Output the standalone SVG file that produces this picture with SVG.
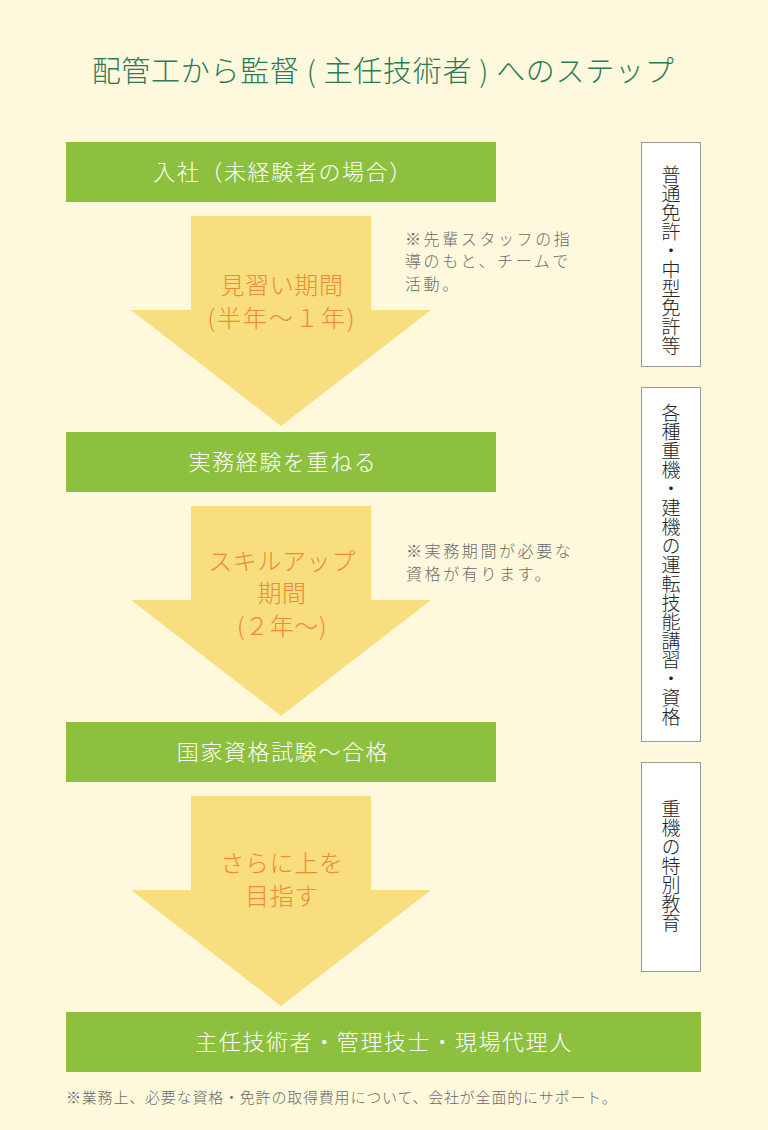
<svg xmlns="http://www.w3.org/2000/svg" width="768" height="1130" viewBox="0 0 768 1130">
<style>
text{font-family:"Noto Sans CJK JP","Noto Sans CJK SC",sans-serif;font-weight:300;}
.title{font-size:29px;fill:#2b7b5b;text-anchor:middle;letter-spacing:0.7px;}
.box{fill:#8dc03e;}
.btxt{font-size:22px;fill:#ffffff;text-anchor:middle;letter-spacing:1.6px;}
.arrow{fill:#f9de7f;}
.atxt{font-size:24px;fill:#ef8a36;text-anchor:middle;letter-spacing:0.6px;}
.note{font-size:16px;fill:#6b6b6b;letter-spacing:2.6px;}
.side{fill:#ffffff;stroke:#9a9a9a;stroke-width:1;}
.vtxt{font-size:19px;fill:#222;text-anchor:middle;writing-mode:vertical-rl;}
.foot{font-size:15px;fill:#6b6b6b;letter-spacing:0.8px;}
</style>
<rect width="768" height="1130" fill="#fef9dc"/>
<text class="title" x="383" y="82">配管工から監督 ( 主任技術者 ) へのステップ</text>
<g id="connectors">
<polygon class="arrow" points="191,216 371,216 371,310 431,310 281,426 131,310 191,310"/>
<polygon class="arrow" points="191,506 371,506 371,600 431,600 281,716 131,600 191,600"/>
<polygon class="arrow" points="191,796 371,796 371,890 431,890 281,1006 131,890 191,890"/>
<text class="atxt" x="282" y="294">見習い期間</text>
<text class="atxt" x="282" y="327" style="letter-spacing:2px">(半年〜１年)</text>
<text class="atxt" x="282" y="570">スキルアップ</text>
<text class="atxt" x="282" y="602">期間</text>
<text class="atxt" x="282" y="635">(２年〜)</text>
<text class="atxt" x="282" y="872">さらに上を</text>
<text class="atxt" x="282" y="905">目指す</text>
</g>
<g id="step1"><rect class="box" x="66" y="142" width="430" height="60"/><text class="btxt" x="283" y="180">入社（未経験者の場合）</text></g>
<g id="step2"><rect class="box" x="66" y="432" width="430" height="60"/><text class="btxt" x="283" y="470">実務経験を重ねる</text></g>
<g id="step3"><rect class="box" x="66" y="722" width="430" height="60"/><text class="btxt" x="283" y="760">国家資格試験〜合格</text></g>
<g id="step4"><rect class="box" x="66" y="1012" width="635" height="60"/><text class="btxt" x="384" y="1050">主任技術者・管理技士・現場代理人</text></g>
<g id="note1">
<text class="note" x="405" y="245">※先輩スタッフの指</text>
<text class="note" x="405" y="267">導のもと、チームで</text>
<text class="note" x="405" y="290">活動。</text>
</g>
<g id="note2">
<text class="note" x="406" y="557">※実務期間が必要な</text>
<text class="note" x="406" y="580">資格が有ります。</text>
</g>
<g id="side1"><rect class="side" x="641.5" y="142.5" width="59" height="224"/><text class="vtxt" x="671" y="260">普通免許・中型免許等</text></g>
<g id="side2"><rect class="side" x="641.5" y="387.5" width="59" height="354"/><text class="vtxt" x="671" y="565">各種重機・建機の運転技能講習・資格</text></g>
<g id="side3"><rect class="side" x="641.5" y="762.5" width="59" height="209"/><text class="vtxt" x="671" y="866">重機の特別教育</text></g>
<text class="foot" x="66" y="1103">※業務上、必要な資格・免許の取得費用について、会社が全面的にサポート。</text>
</svg>
